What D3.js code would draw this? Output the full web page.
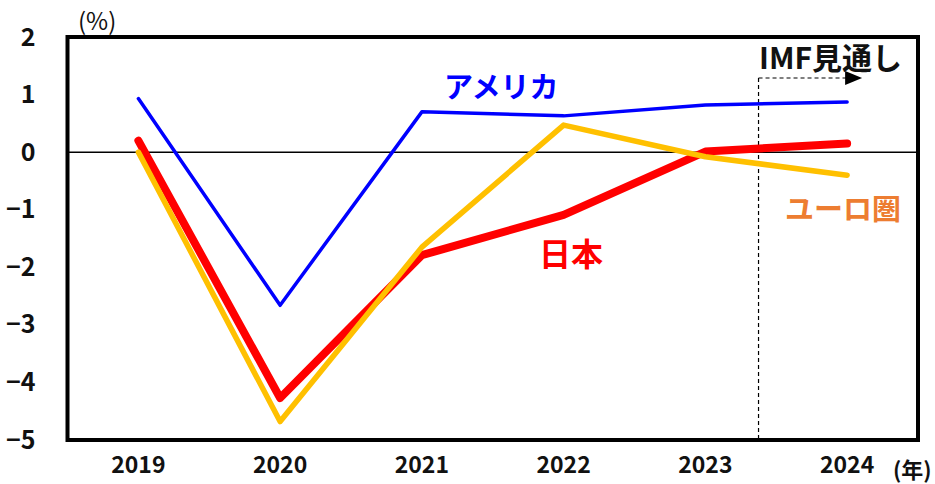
<!DOCTYPE html>
<html><head><meta charset="utf-8">
<script src="https://cdn.jsdelivr.net/npm/d3@7"></script>
<style>body{margin:0;background:#fff}svg{display:block}text{font-family:"Noto Sans CJK JP","Noto Sans",sans-serif}</style>
</head><body>
<script>
const years = ["2019","2020","2021","2022","2023","2024"];
const usa   = [0.93, -2.66, 0.70, 0.63, 0.82, 0.87];
const japan = [0.20, -4.27, -1.79, -1.09, 0.01, 0.15];
const euro  = [0.00, -4.68, -1.65, 0.47, -0.08, -0.40];
const yTicks = [2, 1, 0, -1, -2, -3, -4, -5];

const W = 935, H = 484;
const m = {l: 67.5, r: 17, t: 37, b: 44};
const svg = d3.select("body").append("svg").attr("width", W).attr("height", H);
const x = d3.scaleBand().domain(years).range([m.l, W - m.r]);
const y = d3.scaleLinear().domain([-5, 2]).range([H - m.b, m.t]);
const cx = d => x(d) + x.bandwidth() / 2;
const FF = '"Noto Sans CJK JP",sans-serif';

// zero line
svg.append("line").attr("x1", m.l).attr("x2", W - m.r).attr("y1", y(0)).attr("y2", y(0))
  .attr("stroke", "#000").attr("stroke-width", 1.5);

// y axis labels
const yAxis = d3.axisLeft(y).tickValues(yTicks).tickSize(0).tickPadding(32).tickFormat(d3.format("d"));
const ga = svg.append("g").attr("transform", `translate(${m.l},0)`).call(yAxis);
ga.select(".domain").remove();
ga.selectAll("text").attr("font-size", 25).attr("font-weight", "bold").attr("fill", "#111")
  .style("font-family", FF);

// x axis labels
const xAxis = d3.axisBottom(x).tickSize(0).tickPadding(17);
const gx = svg.append("g").attr("transform", `translate(0,${H - m.b})`).call(xAxis);
gx.select(".domain").remove();
gx.selectAll("text").attr("font-size", 23).attr("font-weight", "bold").attr("fill", "#111")
  .style("font-family", FF);

// IMF forecast marker
const xf = cx("2023") + x.bandwidth() * 0.375;
const yf = 78;
svg.append("line").attr("x1", xf).attr("x2", xf).attr("y1", yf).attr("y2", y(-5) + 2)
  .attr("stroke", "#000").attr("stroke-width", 1.2).attr("stroke-dasharray", "4,3");
svg.append("line").attr("x1", xf).attr("x2", cx("2024")).attr("y1", yf).attr("y2", yf)
  .attr("stroke", "#000").attr("stroke-width", 1.2).attr("stroke-dasharray", "4,3");
svg.append("path").attr("d", `M${cx("2024")-2},${yf-7}L${cx("2024")+15},${yf}L${cx("2024")-2},${yf+7}Z`).attr("fill", "#000");
svg.append("text").attr("x", 759).attr("y", 69).attr("font-size", 30).attr("font-weight", "bold")
  .attr("fill", "#111").text("IMF見通し");

// lines
const line = d3.line().x((d, i) => cx(years[i])).y(d => y(d));
const series = [
  {v: japan, c: "#FF0000", w: 8},
  {v: euro, c: "#FFC000", w: 5.5},
  {v: usa, c: "#0000FF", w: 3.5}
];
series.forEach(s => {
  svg.append("path").datum(s.v).attr("d", line).attr("fill", "none")
    .attr("stroke", s.c).attr("stroke-width", s.w)
    .attr("stroke-linejoin", "round").attr("stroke-linecap", "round");
});

// frame
svg.append("rect").attr("x", m.l).attr("y", m.t).attr("width", W - m.r - m.l).attr("height", H - m.b - m.t)
  .attr("fill", "none").attr("stroke", "#000").attr("stroke-width", 4);

// labels
svg.append("text").attr("x", 444).attr("y", 98).attr("font-size", 29).attr("font-weight", "bold").attr("fill", "#0000FF").text("アメリカ");
svg.append("text").attr("x", 539).attr("y", 266).attr("font-size", 32).attr("font-weight", "bold").attr("fill", "#FF0000").text("日本");
svg.append("text").attr("x", 785).attr("y", 220).attr("font-size", 29).attr("font-weight", "bold").attr("fill", "#ED7D31").text("ユーロ圏");
svg.append("text").attr("x", 78).attr("y", 30).attr("font-size", 24).attr("fill", "#111").text("(%)");
svg.append("text").attr("x", 893).attr("y", 478).attr("font-size", 22).attr("font-weight", "bold").attr("fill", "#111").text("(年)");
</script>
</body></html>
